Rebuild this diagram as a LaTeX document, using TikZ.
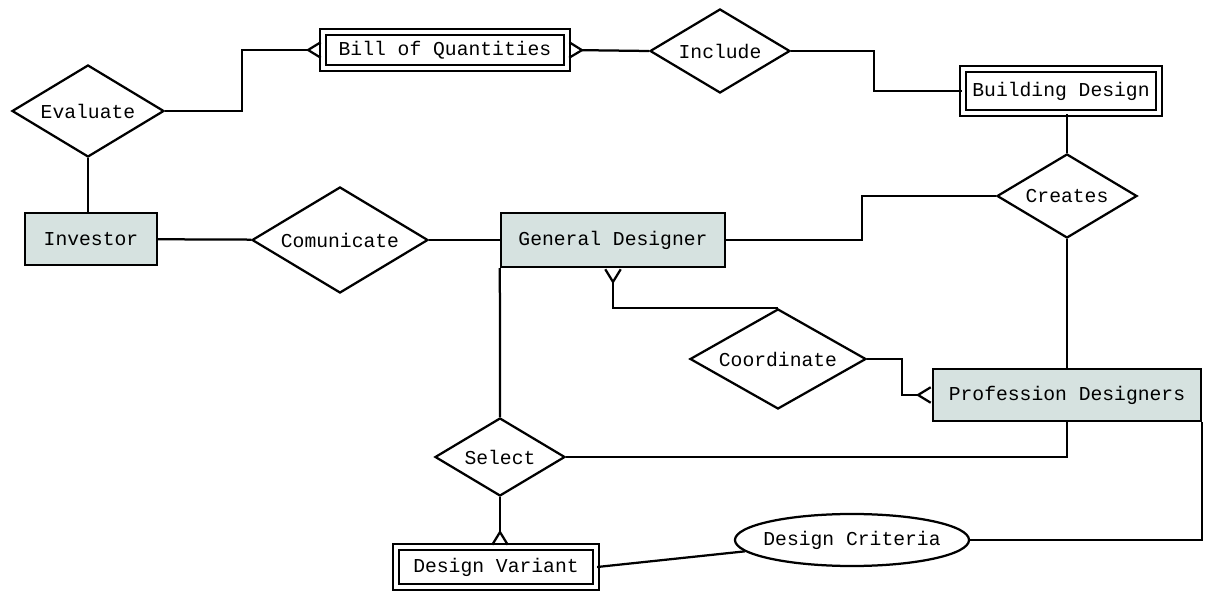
\documentclass[tikz,border=0pt]{standalone}
\usepackage{fontspec}
\setmonofont{Liberation Mono}
\usepackage{xcolor}
\usetikzlibrary{shapes.geometric, positioning, arrows.meta}
\definecolor{entfill}{HTML}{D6E2E0}

\begin{document}
\begin{tikzpicture}[x=0.025cm, y=-0.025cm,
        every node/.style={font=\ttfamily\fontsize{14}{16}\selectfont},
        every path/.style={line width=1.6pt},
        entity/.style={rectangle, draw, fill=entfill, minimum width=#1, minimum height=1.3cm},
        weak/.style={rectangle, draw, double, double distance=2.6pt, minimum width=#1},
        rel/.style={diamond, draw, inner sep=0pt, aspect=1.7},
        attr/.style={ellipse, draw, inner xsep=-5pt, minimum width=5.85cm, minimum height=1.3cm},
        many/.style={-{Straight Barb[reversed, length=9pt, width=11pt]}},
        manyback/.style={{Straight Barb[reversed, length=9pt, width=11pt]}-}
    ]
    \useasboundingbox (0,0) rectangle (1213,597);
%
    \node[weak=6.1cm, minimum height=0.9cm] (boq) at (445,50) {Bill of Quantities};
    \node[weak=4.9cm, minimum height=1.1cm] (bdes) at (1061,91) {Building Design};
    \node[weak=5.0cm, minimum height=1.0cm] (dv) at (496,567) {Design Variant};
%
    \node[entity=3.3cm] (inv) at (91,239) {Investor};
    \node[entity=5.6cm, minimum height=1.35cm] (gd) at (613,240) {General Designer};
    \node[entity=6.7cm] (prof) at (1067,395) {Profession Designers};
%
    \node[rel, minimum width=3.8cm, minimum height=2.3cm] (eval) at (88,111) {Evaluate};
    \node[rel, minimum width=3.5cm, minimum height=2.1cm] (incl) at (720,51) {Include};
    \node[rel, minimum width=4.4cm, minimum height=2.65cm] (comm) at (340,240) {Comunicate};
    \node[rel, minimum width=3.5cm, minimum height=2.1cm] (creates) at (1067,196) {Creates};
    \node[rel, minimum width=4.4cm, minimum height=2.5cm] (coord) at (778,359) {Coordinate};
    \node[rel, minimum width=3.25cm, minimum height=1.95cm] (select) at (500,457) {Select};
%
    \node[attr] (crit) at (852,540) {Design Criteria};
%
    \draw[many] (eval.east) -- ++(77,0) |- (boq.west);
    \draw[manyback] (boq.east) -- (incl.west);
    \draw (incl.east) -- ++(83,0) |- (bdes.west);
    \draw (eval) -- (eval |- inv.north);
    \draw (inv) -- (comm);
    \draw (comm) -- (gd);
    \draw (gd.east) -- ++(136,0) |- (creates.west);
    \draw (creates) -- (creates |- bdes.south);
    \draw (creates) -- (prof);
    \draw[manyback] (gd.south) |- (coord.north);
    \draw[many] (coord.east) -- ++(35,0) |- (prof.west);
    \draw (gd.south west) -- (select.north);
    \draw (select.east) -| (prof.south);
    \draw[many] (select.south) -- (select.south |- dv.north);
    \draw (dv.east) -- (crit);
    \draw (crit.east) -| (prof.south east);
%
\end{tikzpicture}
\end{document}
